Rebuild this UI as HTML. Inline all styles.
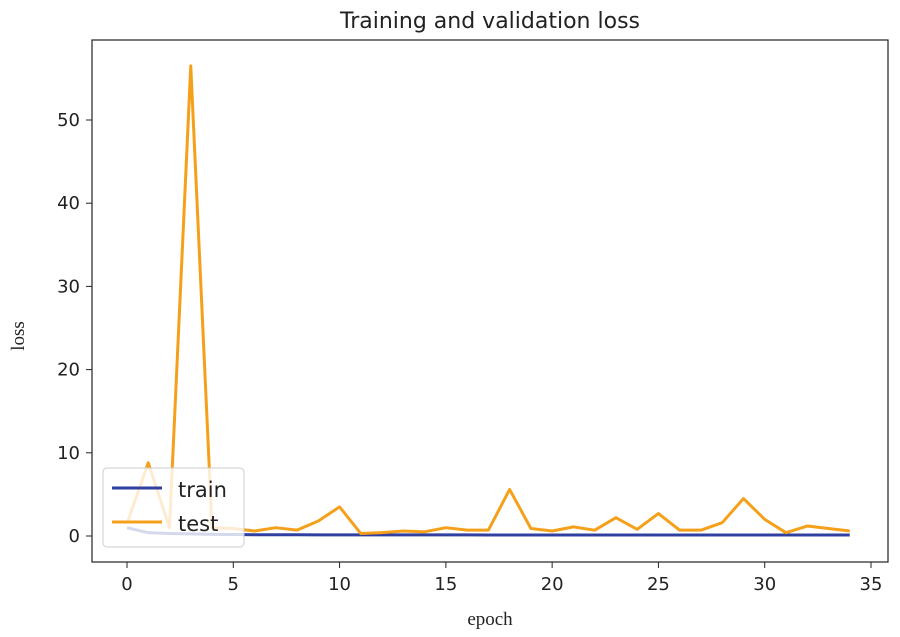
<!DOCTYPE html>
<html><head><meta charset="utf-8"><style>
body{margin:0;background:#fff;}
svg{display:block;}
text{font-family:"DejaVu Sans","Liberation Sans",sans-serif;fill:#222;}
</style></head><body>
<svg id="chart" width="900" height="637" viewBox="0 0 900 637" xmlns="http://www.w3.org/2000/svg">
<text x="490" y="28" text-anchor="middle" font-size="22">Training and validation loss</text>
<rect x="92" y="40" width="796" height="522" fill="none" stroke="#222" stroke-width="1.2"/>
<g id="ticks"></g>
<g id="lines"></g>
<text transform="translate(24,336) rotate(-90)" text-anchor="middle" font-size="19" style="font-family:'Liberation Serif',serif">loss</text>
<text x="490" y="625" text-anchor="middle" font-size="19" style="font-family:'Liberation Serif',serif">epoch</text>
<g>
<rect x="103" y="468" width="141" height="79" rx="4" fill="#fff" fill-opacity="0.8" stroke="#ccc"/>
<line x1="112" y1="488" x2="162" y2="488" stroke="#3040a0" stroke-width="3"/>
<text x="178" y="497" font-size="21">train</text>
<line x1="112" y1="522" x2="162" y2="522" stroke="#f5a01a" stroke-width="3"/>
<text x="178" y="531" font-size="21">test</text>
</g>
</svg>
<script>
const epochs=[0,1,2,3,4,5,6,7,8,9,10,11,12,13,14,15,16,17,18,19,20,21,22,23,24,25,26,27,28,29,30,31,32,33,34];
const trainLoss=[1.0,0.4,0.3,0.25,0.2,0.18,0.15,0.15,0.15,0.14,0.14,0.14,0.13,0.13,0.13,0.13,0.13,0.12,0.12,0.12,0.12,0.12,0.12,0.12,0.12,0.12,0.12,0.12,0.12,0.12,0.12,0.12,0.12,0.12,0.12];
const testLoss=[1.5,8.8,1.0,56.5,1.0,0.9,0.6,1.0,0.7,1.8,3.5,0.3,0.4,0.6,0.5,1.0,0.7,0.7,5.6,0.9,0.6,1.1,0.7,2.2,0.8,2.7,0.7,0.7,1.6,4.5,2.0,0.4,1.2,0.9,0.6];
const xTicks=[0,5,10,15,20,25,30,35];
const yTicks=[0,10,20,30,40,50];
const NS="http://www.w3.org/2000/svg";
const xs=v=>127+v*(744/35);
const ys=v=>536-v*8.32;
const tg=document.getElementById('ticks'), lg=document.getElementById('lines');
xTicks.forEach(t=>{
 const l=document.createElementNS(NS,'line');
 
 
 l.setAttribute('x1',xs(t));l.setAttribute('x2',xs(t));l.setAttribute('y1',562);l.setAttribute('y2',568);l.setAttribute('stroke','#222');
 tg.appendChild(l);
 const tx=document.createElementNS(NS,'text');
 
 
 tx.setAttribute('x',xs(t));tx.setAttribute('y',590);tx.setAttribute('text-anchor','middle');tx.setAttribute('font-size','18');
 tx.textContent=t;tg.appendChild(tx);
});
yTicks.forEach(t=>{
 const l=document.createElementNS(NS,'line');
 
 
 l.setAttribute('x1',86);l.setAttribute('x2',92);l.setAttribute('y1',ys(t));l.setAttribute('y2',ys(t));l.setAttribute('stroke','#222');
 tg.appendChild(l);
 const tx=document.createElementNS(NS,'text');
 
 
 tx.setAttribute('x',80);tx.setAttribute('y',ys(t)+6);tx.setAttribute('text-anchor','end');tx.setAttribute('font-size','18');
 tx.textContent=t;tg.appendChild(tx);
});
function line(vals,color,name){
 const p=document.createElementNS(NS,'polyline');
 
 
 p.setAttribute('points',vals.map((v,i)=>xs(epochs[i])+','+ys(v)).join(' '));
 p.setAttribute('fill','none');p.setAttribute('stroke',color);p.setAttribute('stroke-width','3');p.setAttribute('stroke-linejoin','round');
 lg.appendChild(p);
}
line(trainLoss,'#3040a0','train-line');
line(testLoss,'#f5a01a','test-line');
</script>
</body></html>
